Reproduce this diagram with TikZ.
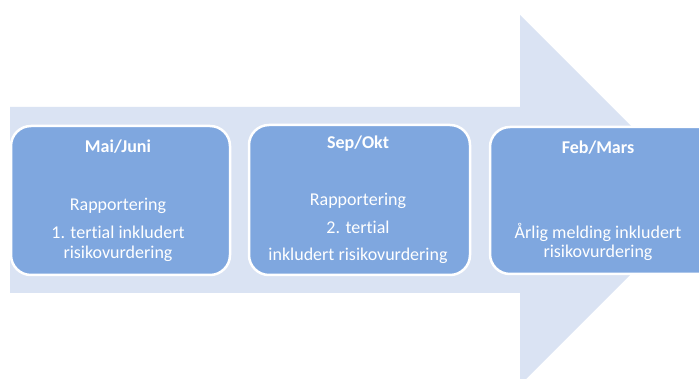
\documentclass[tikz,border=0pt]{standalone}
\usepackage{fontspec}
\setmainfont{Carlito}[Ligatures=NoCommon]
\definecolor{arrowblue}{HTML}{DAE3F3}
\definecolor{boxblue}{HTML}{7FA7DF}
\begin{document}
\begin{tikzpicture}[x=1pt,y=-1pt,
  stagebox/.style={draw=white,line width=2.5pt,fill=boxblue,rounded corners=20pt,inner sep=0pt},
  title/.style={text=white,font=\fontsize{18}{20}\selectfont\bfseries,inner sep=0pt,anchor=base},
  body/.style={text=white,font=\fontsize{18}{20}\selectfont,inner sep=0pt,anchor=base}]
\useasboundingbox (0,0) rectangle (699,379);
\clip (0,0) rectangle (699,379);
% big arrow
\fill[arrowblue] (10,107) -- (520,107) -- (520,15) -- (705,200) -- (520,385) -- (520,293) -- (10,293) -- cycle;
% boxes
\node[stagebox,minimum width=219pt,minimum height=149pt] (b1) at (120.5,200.5) {};
\node[stagebox,minimum width=221pt,minimum height=150pt] (b2) at (359.5,200) {};
\node[stagebox,minimum width=230pt,minimum height=147pt] (b3) at (605,200.5) {};
% texts box 1
\node[title] (t1) at (118,153) {Mai/Juni};
\node[body] (r1) at (118,211) {Rapportering};
\node[body] (d1) at (118,239) {1. tertial inkludert};
\node[body] (e1) at (118,259) {risikovurdering};
% texts box 2
\node[title] (t2) at (358,149) {Sep/Okt};
\node[body] (r2) at (358,206) {Rapportering};
\node[body] (d2) at (358,234) {2. tertial};
\node[body] (e2) at (358,261) {inkludert risikovurdering};
% texts box 3
\node[title] (t3) at (598,154) {Feb/Mars};
\node[body] (d3) at (598,239) {Årlig melding inkludert};
\node[body] (e3) at (598,258) {risikovurdering};
\end{tikzpicture}
\end{document}
